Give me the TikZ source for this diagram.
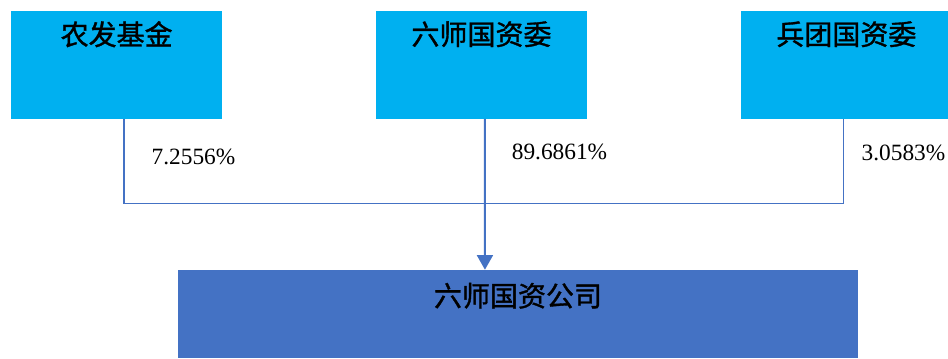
\documentclass[tikz,border=0pt]{standalone}
\usepackage{fontspec}
\setmainfont{Liberation Serif}
\newfontfamily\cjk[FakeBold=1.2]{Noto Sans CJK SC}
\usetikzlibrary{arrows.meta,positioning}
\definecolor{boxcyan}{HTML}{00B0F0}
\definecolor{boxblue}{HTML}{4472C4}
\tikzset{
    %Define standard arrow tip
    >={Triangle[width=12pt,length=11pt]},
    %Define style for shareholder boxes
    gudong/.style={
           rectangle,
           fill=boxcyan,
           minimum width=158.25pt,
           minimum height=81pt,
           inner sep=0pt},
    %Define style for the company box
    gongsi/.style={
           rectangle,
           fill=boxblue,
           minimum width=510pt,
           minimum height=66pt,
           inner sep=0pt},
    %Define style for box titles
    mingzi/.style={
           font=\cjk\fontsize{21pt}{21pt}\selectfont,
           inner sep=0pt},
    %Define style for share labels
    bili/.style={
           font=\fontsize{17.5pt}{17.5pt}\selectfont,
           inner sep=0pt},
    % Define line style
    xian/.style={
           draw=boxblue,
           line width=1.1pt}
}
\begin{document}
\begin{tikzpicture}[x=0.75pt,y=-0.75pt,node distance=115pt]
  \useasboundingbox (0,0) rectangle (948,358);
  \node[gudong] (lsgzw) at (481.5,64.5) {};
  \node[gudong,left=of lsgzw] (nfjj) {};
  \node[gudong,right=of lsgzw] (btgzw) {};
  \node[gongsi] (lsgs) at (518,314) {};
  % box titles
  \node[mingzi] (nfjjname) at ([yshift=-18pt]nfjj.north) {农发基金};
  \node[mingzi] (lsgzwname) at ([yshift=-18pt]lsgzw.north) {六师国资委};
  \node[mingzi] (btgzwname) at ([yshift=-18pt]btgzw.north) {兵团国资委};
  \node[mingzi] (lsgsname) at ([yshift=-19.5pt]lsgs.north) {六师国资公司};
  % connectors
  \coordinate (huiji) at (485,203.5);
  \draw[xian] ([xshift=5.6pt]nfjj.south) |- (huiji);
  \draw[xian] ([xshift=-2.3pt]btgzw.south) |- (huiji);
  \draw[xian,line width=1.5pt,->] ([xshift=2.6pt]lsgzw.south) -- ([xshift=-24.8pt]lsgs.north);
  % shares
  \node[bili] (nfjjbili) at (193.5,157) {7.2556\%};
  \node[bili] (lsgzwbili) at (559.5,152) {89.6861\%};
  \node[bili] (btgzwbili) at (903.5,153) {3.0583\%};
\end{tikzpicture}
\end{document}
